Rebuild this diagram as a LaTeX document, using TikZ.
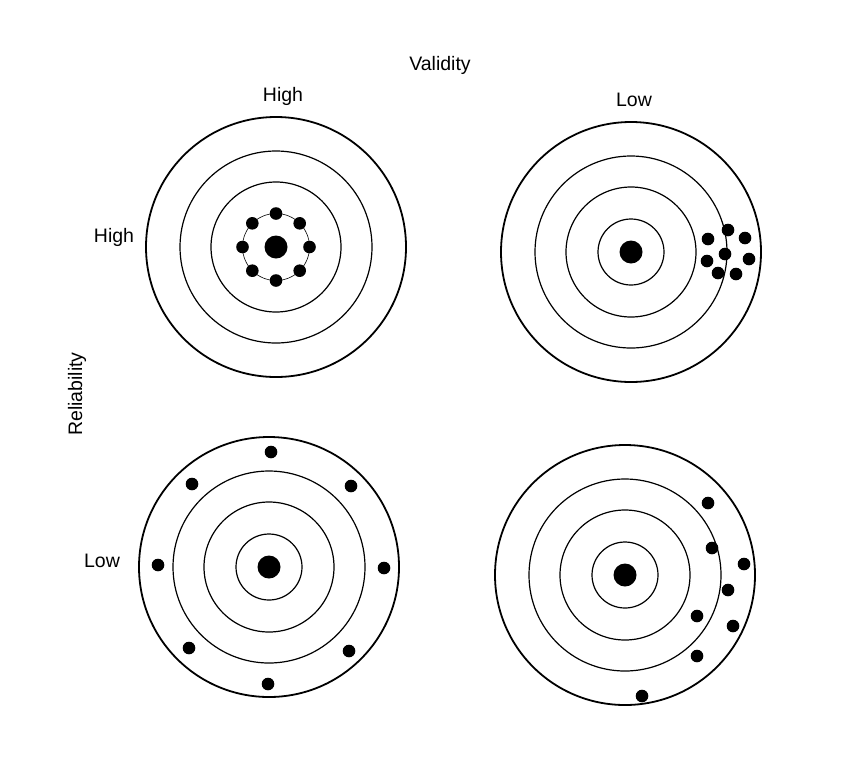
\documentclass[tikz,border=0pt]{standalone}
\usepackage{fontspec}
\setmainfont{Liberation Sans}
\begin{document}
\begin{tikzpicture}[x=1pt,y=-1pt, lbl/.style={anchor=base,inner sep=0pt,font=\fontsize{19.5}{22}\selectfont}, rim/.style={line width=1.8pt}, ring/.style={line width=1.2pt}, shot/.style={fill=black}]
\useasboundingbox (0,0) rectangle (850,774);
% target centres
\coordinate (hh) at (276,247);
\coordinate (hl) at (631,252);
\coordinate (lh) at (269,567);
\coordinate (ll) at (625,575);
\foreach \c in {hh,hl,lh,ll}{
  \draw[rim] (\c) circle[radius=130pt];
  \foreach \r in {65,96} \draw[ring] (\c) circle[radius=\r pt];
  \fill (\c) circle[radius=11.5pt];
}
\foreach \c in {hl,lh,ll} \draw[ring] (\c) circle[radius=33pt];
\draw[line width=0.6pt] (hh) circle[radius=33.5pt];
% shots
\foreach \a in {0,45,...,315} \fill[shot] (hh) ++(\a:33.5pt) circle[radius=6.3pt];
\foreach \p in {(728,230),(708,239),(745,238),(725,254),(707,261),(749,259),(718,273),(736,274)}
  \fill[shot] \p circle[radius=6.3pt];
\foreach \p in {(271,452),(192,484),(351,486),(158,565),(384,568),(189,648),(349,651),(268,684)}
  \fill[shot] \p circle[radius=6.3pt];
\foreach \p in {(708,503),(712,548),(744,564),(728,590),(697,616),(733,626),(697,656),(642,696)}
  \fill[shot] \p circle[radius=6.3pt];
% labels
\node[lbl] (validity) at (440,70) {Validity};
\node[lbl] (vhigh) at (283,101) {High};
\node[lbl] (vlow) at (634,106) {Low};
\node[lbl] (rhigh) at (114,242) {High};
\node[lbl,rotate=90] (reliab) at (82,394) {Reliability};
\node[lbl] (rlow) at (102,567) {Low};
\end{tikzpicture}
\end{document}
